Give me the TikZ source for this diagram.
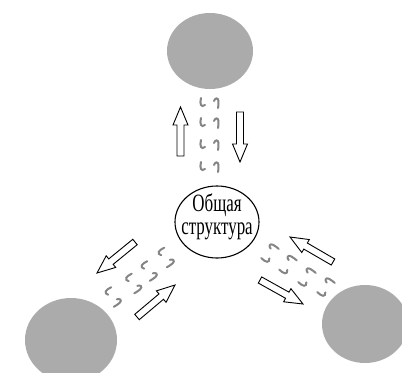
\documentclass[tikz,border=0pt]{standalone}
\usepackage{fontspec}
\setmainfont{Liberation Serif}
\usetikzlibrary{calc,shapes.geometric}
\definecolor{blobgray}{HTML}{ABABAB}
\definecolor{sqgray}{HTML}{858585}
\tikzset{
  blob/.style={ellipse, fill=blobgray, draw=none, inner sep=0pt},
  hub/.style={ellipse, draw=black, line width=1.1bp, fill=white, inner sep=0pt,
    minimum width=84bp, minimum height=72bp},
  hubtext/.style={align=center, font=\fontsize{25}{23}\selectfont, inner sep=0pt},
  blockarrow/.style={draw=black, fill=white, line width=0.9bp, line join=miter},
  squig/.style={draw=sqgray, line width=2bp, line cap=round},
  sqpair/.pic={
    \draw[squig] (-8.5,-5) .. controls (-10,1) and (-8.5,5) .. (-4.5,2);
    \draw[squig] (4.5,-2) .. controls (5.5,-5) and (8.5,-6) .. (9,-2) .. controls (9.5,1) and (8.5,3) .. (8.5,5);
  }
}
\newcommand\hollowarrow[2]{%
  \coordinate (hh) at ($(#2)!18bp!(#1)$);
  \draw[blockarrow] ($(#1)!3.5bp!90:(#2)$) -- ($(hh)!3.5bp!90:(#2)$) -- ($(hh)!7.5bp!90:(#2)$) -- (#2)
    -- ($(hh)!7.5bp!-90:(#2)$) -- ($(hh)!3.5bp!-90:(#2)$) -- ($(#1)!3.5bp!-90:(#2)$) -- cycle;
}
\begin{document}
\begin{tikzpicture}[x=1bp,y=-1bp]
\useasboundingbox (0,0) rectangle (402,373);
\fill[white] (0,0) rectangle (402,373);
% gray blobs
\node[blob, minimum width=86bp, minimum height=76bp] (top) at (210,51) {};
\node[blob, minimum width=92bp, minimum height=84bp] (bl) at (71,340) {};
\node[blob, minimum width=86bp, minimum height=78bp] (br) at (365,324) {};
% squiggles
\foreach \yy in {103,123,145,167} \pic at (209.5,\yy) {sqpair};
\foreach \cx/\cy in {165.5/257.5, 148.5/271, 133/283.5, 112.5/297} \pic[rotate=-52] at (\cx,\cy) {sqpair};
\foreach \cx/\cy in {270/253.5, 288/265, 307/277.5, 326/287.5} \pic[rotate=58] at (\cx,\cy) {sqpair};
% hub
\node[hub] (hub) at (217,222) {};
\node[hubtext] (label) at (217,217) {\scalebox{0.68}[1]{Общая}\\\scalebox{0.68}[1]{структура}};
% arrow end points
\coordinate (upT) at (180.5,156); \coordinate (upH) at (180.5,107);
\coordinate (dnT) at (240,112);   \coordinate (dnH) at (240,162);
\coordinate (l1T) at (135,242);   \coordinate (l1H) at (97,273);
\coordinate (l2T) at (137,317);   \coordinate (l2H) at (175,285);
\coordinate (r1T) at (333,262);   \coordinate (r1H) at (290,237);
\coordinate (r2T) at (260,280);   \coordinate (r2H) at (303,304);
\hollowarrow{upT}{upH}
\hollowarrow{dnT}{dnH}
\hollowarrow{l1T}{l1H}
\hollowarrow{l2T}{l2H}
\hollowarrow{r1T}{r1H}
\hollowarrow{r2T}{r2H}
\end{tikzpicture}
\end{document}
